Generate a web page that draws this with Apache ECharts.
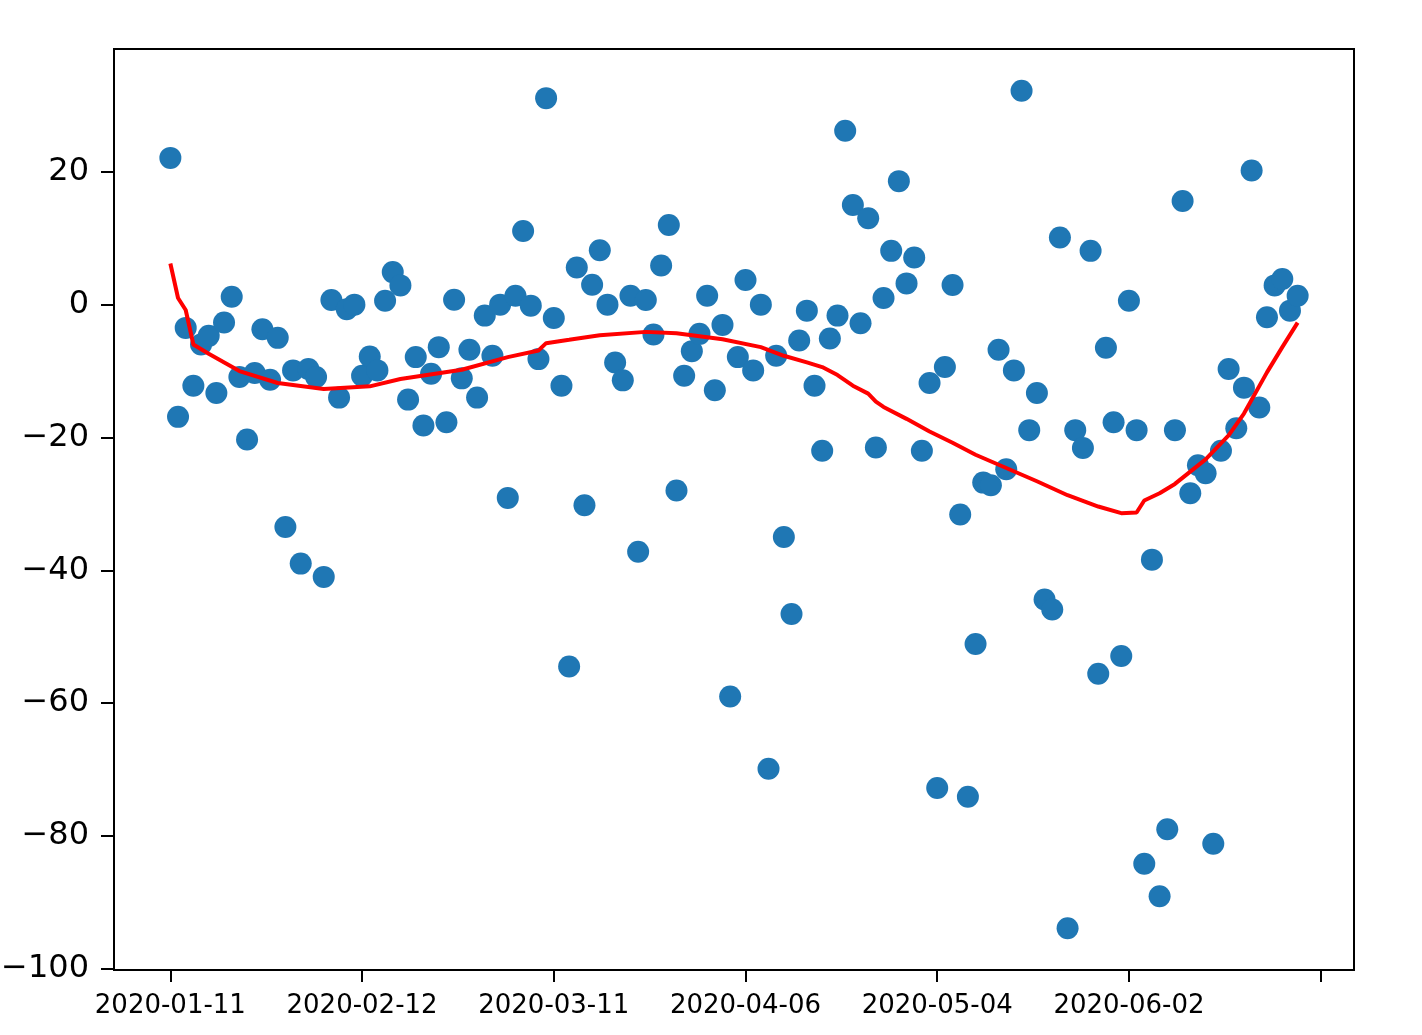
<!DOCTYPE html>
<html>
<head>
<meta charset="utf-8">
<script src="https://cdn.jsdelivr.net/npm/echarts@6/dist/echarts.min.js"></script>
<style>
  html, body { margin: 0; padding: 0; background: #fff; }
  #chart { width: 1422px; height: 1035px; }
</style>
</head>
<body>
<div id="chart"></div>
<script>
// x tick positions (point index) and their date labels
const tickIndex = [0, 25, 50, 75, 100, 125, 150];
const tickLabels = ['2020-01-11', '2020-02-12', '2020-03-11', '2020-04-06', '2020-05-04', '2020-06-02', ''];
const yTicks = [-100, -80, -60, -40, -20, 0, 20];

// scatter values, one per day index
const values = [
  22.1, -16.9, -3.5, -12.2, -6.0, -4.7, -13.3, -2.7, 1.2, -10.9,
  -20.3, -10.3, -3.7, -11.3, -5.0, -33.5, -9.9, -39.0, -9.7, -10.9,
  -41.0, 0.7, -14.0, -0.7, 0.0, -10.7, -7.8, -9.9, 0.6, 4.9,
  2.9, -14.3, -7.9, -18.2, -10.4, -6.4, -17.7, 0.75, -11.1, -6.8,
  -14.0, -1.65, -7.7, 0.0, -29.1, 1.35, 11.1, -0.15, -8.2, 31.1,
  -2.0, -12.2, -54.5, 5.6, -30.2, 3.0, 8.2, 0.0, -8.7, -11.4,
  1.35, -37.2, 0.7, -4.5, 5.9, 12.0, -28.0, -10.7, -7.0, -4.4,
  1.35, -12.9, -3.05, -59.0, -7.9, 3.7, -9.9, 0.0, -69.9, -7.7,
  -35.0, -46.6, -5.4, -0.9, -12.2, -22.0, -5.1, -1.65, 26.2, 15.0,
  -2.8, 13.0, -21.5, 1.0, 8.1, 18.6, 3.2, 7.1, -22.0, -11.8,
  -72.8, -9.4, 2.95, -31.6, -74.1, -51.1, -26.8, -27.2, -6.8, -24.8,
  -9.9, 32.2, -18.9, -13.3, -44.4, -45.9, 10.1, -93.9, -18.9, -21.6,
  8.1, -55.6, -6.5, -17.7, -52.9, 0.6, -18.9, -84.2, -38.4, -89.1,
  -79.0, -18.9, 15.6, -28.4, -24.2, -25.4, -81.2, -22.0, -9.7, -18.6,
  -12.5, 20.2, -15.5, -1.9, 2.9, 3.85, -0.9, 1.35
];

// red trend line, read at these indices
const trendIdx = [0, 1, 2, 3, 5, 9, 14, 20, 26, 30, 38, 44, 48, 49, 52, 56, 62, 66, 72, 77,
  80, 83, 85, 87, 89, 91, 92, 93, 96, 99, 102, 105, 109, 113, 117, 121, 124, 126, 127, 129,
  131, 135, 138, 140, 143, 145, 147];
const trendVal = [6.2, 1.0, -0.8, -6.0, -7.4, -10.0, -11.8, -12.7, -12.3, -11.2, -9.8, -7.9, -6.9, -5.8, -5.3, -4.6, -4.1, -4.3, -5.2, -6.4,
  -7.7, -8.7, -9.4, -10.6, -12.2, -13.4, -14.6, -15.4, -17.2, -19.1, -20.8, -22.6, -24.6, -26.6, -28.7, -30.4, -31.4, -31.3, -29.5, -28.4,
  -27.0, -23.3, -19.7, -16.4, -10.2, -6.4, -2.7];

const font = 'DejaVu Sans';

const option = {
  animation: false,
  backgroundColor: '#fff',
  grid: {
    left: 114, top: 49, width: 1240, height: 921,
    outerBoundsMode: 'none',
    show: true, borderColor: '#000', borderWidth: 2
  },
  xAxis: {
    type: 'value',
    min: -7.35,
    max: 154.35,
    splitLine: { show: false },
    axisLine: { show: true, onZero: false, lineStyle: { color: '#000', width: 2 } },
    axisTick: {
      show: true, customValues: tickIndex, length: 12,
      lineStyle: { color: '#000', width: 2 }
    },
    axisLabel: {
      customValues: tickIndex,
      formatter: v => tickLabels[tickIndex.indexOf(Math.round(v))] || '',
      fontFamily: font, fontSize: 26, color: '#000', margin: 23
    }
  },
  yAxis: {
    type: 'value',
    min: -100.2,
    max: 38.5,
    splitLine: { show: false },
    axisLine: { show: true, onZero: false, lineStyle: { color: '#000', width: 2 } },
    axisTick: {
      show: true, customValues: yTicks, length: 13,
      lineStyle: { color: '#000', width: 2 }
    },
    axisLabel: {
      customValues: yTicks,
      formatter: v => (v < 0 ? '\u2212' + (-v) : String(v)),
      fontFamily: font, fontSize: 32, color: '#000', margin: 25
    }
  },
  series: [
    {
      type: 'scatter',
      data: values.map((v, i) => [i, v]),
      symbolSize: 22,
      itemStyle: { color: '#1f77b4', opacity: 1 },
      z: 2
    },
    {
      type: 'line',
      data: trendIdx.map((x, i) => [x, trendVal[i]]),
      showSymbol: false,
      smooth: false,
      lineStyle: { color: '#ff0000', width: 4 },
      z: 3
    }
  ]
};

const chart = echarts.init(document.getElementById('chart'));
chart.setOption(option);
</script>
</body>
</html>
